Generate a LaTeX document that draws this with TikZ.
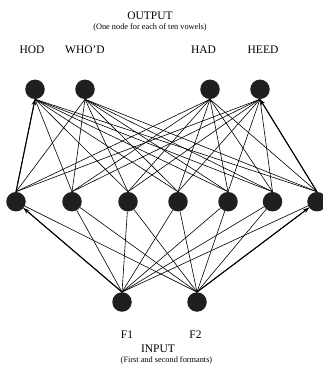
\documentclass[tikz,border=0pt]{standalone}
\usepackage{fontspec}
\setmainfont{Liberation Serif}
\usetikzlibrary{arrows.meta}
\begin{document}
\begin{tikzpicture}[x=1pt,y=-1pt,
  unit/.style={circle,fill=black!88,inner sep=0pt,minimum size=19.5pt},
  link/.style={draw=black,line width=0.6pt},
  mainlink/.style={draw=black,line width=1.1pt,-{Stealth[length=6pt,width=4.5pt]}},
  big/.style={font=\fontsize{11.5}{13}\selectfont,inner sep=0pt},
  small/.style={font=\fontsize{8.3}{10}\selectfont,inner sep=0pt}]
\useasboundingbox (0,0) rectangle (323,366);
\clip (0,0) rectangle (323,366);
% texts
\node[big] (tout) at (150,16) {OUTPUT};
\node[small] (sout) at (150,27.5) {(One node for each of ten vowels)};
\node[big] (lhod) at (32,50) {HOD};
\node[big] (lwho) at (85,50) {WHO'D};
\node[big] (lhad) at (203.5,50) {HAD};
\node[big] (lheed) at (263,50) {HEED};
\node[big] (lf1) at (127,335) {F1};
\node[big] (lf2) at (195.5,335) {F2};
\node[big] (tin) at (158,348.5) {INPUT};
\node[small] (sin) at (166.5,360) {(First and second formants)};
% nodes
\node[unit] (o1) at (35,89.3) {};
\node[unit] (o2) at (85,89.3) {};
\node[unit] (o3) at (210,89.3) {};
\node[unit] (o4) at (260,89.3) {};
\node[unit] (h1) at (16,201.7) {};
\node[unit] (h2) at (72,201.7) {};
\node[unit] (h3) at (128,201.7) {};
\node[unit] (h4) at (178,201.7) {};
\node[unit] (h5) at (228,201.7) {};
\node[unit] (h6) at (272.5,201.7) {};
\node[unit] (h7) at (317,201.7) {};
\node[unit] (i1) at (122,302) {};
\node[unit] (i2) at (197,302) {};
% hidden to output
\foreach \h in {1,...,7}{
  \foreach \o in {1,...,4}{
    \path[link] (h\h.north) -- (o\o.south);
  }
}
% input to hidden
\foreach \i in {1,2}{
  \foreach \h in {1,...,7}{
    \path[link] (i\i.north) -- (h\h);
  }
}
% emphasised arrows
\draw[mainlink] (h1.north) -- (o1.south);
\draw[mainlink] (h7.north) -- (o4.south);
\draw[mainlink] (i1.north) -- (h1);
\draw[mainlink] (i2.north) -- (h7);
\end{tikzpicture}
\end{document}
